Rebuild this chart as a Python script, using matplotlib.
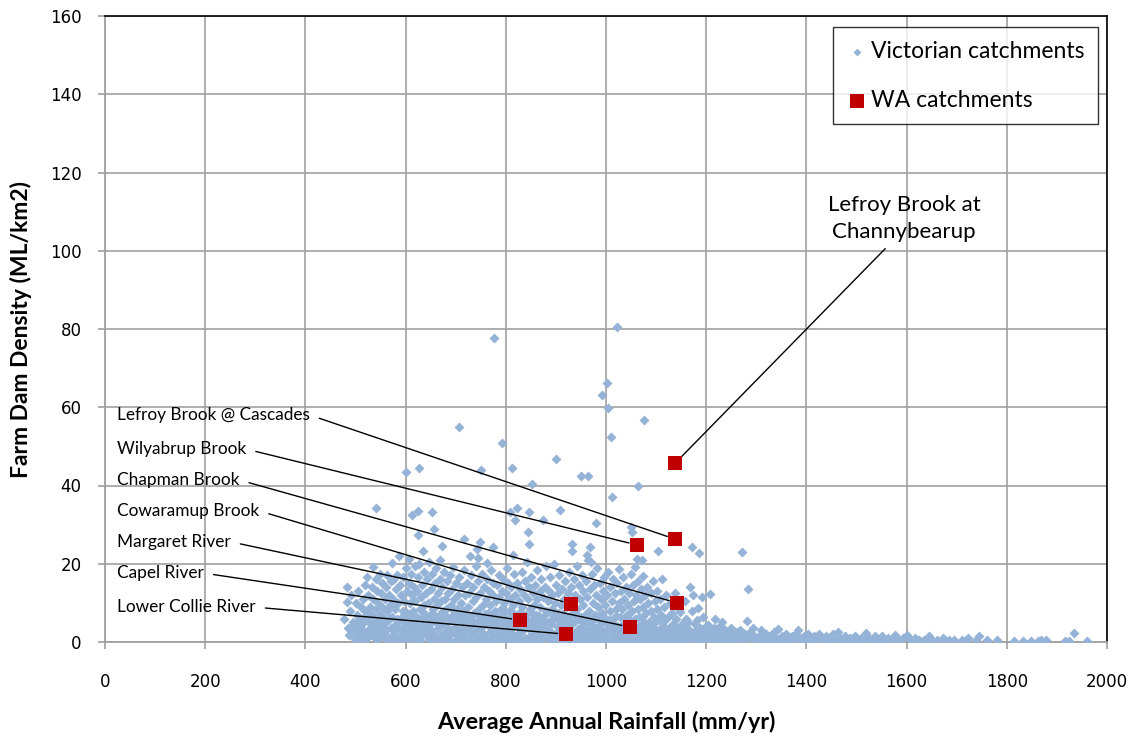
#!/usr/bin/env python3
"""Farm dam density vs average annual rainfall: Victorian and WA catchments."""

import matplotlib
matplotlib.use('Agg')
import matplotlib.pyplot as plt
import numpy as np

# --- Victorian catchments (rainfall mm/yr, dam density ML/km2), by band ---
vic_470_570 = [
    (483, 14.1), (483, 10.2), (478, 6), (485, 3.5), (490, 8), (492, 12),
    (495, 5), (497, 2.5), (500, 10), (502, 7), (505, 13), (505, 4),
    (508, 1.5), (510, 9), (512, 6), (515, 11), (515, 3), (518, 14.5),
    (518, 8), (520, 2), (522, 16.6), (525, 12), (527, 5), (528, 9),
    (530, 2), (532, 14), (533, 7), (535, 19.2), (535, 11), (537, 3.5),
    (538, 1), (540, 16), (540, 8.5), (542, 13), (543, 5.5), (545, 10),
    (546, 2.5), (548, 17.5), (548, 7), (550, 12.5), (551, 4), (553, 15),
    (553, 9), (555, 1.5), (556, 6), (558, 11), (560, 14), (560, 3),
    (562, 8), (563, 17), (565, 5.5), (566, 12), (567, 1), (568, 9.5),
    (570, 15.5), (570, 3.5),
]
vic_570_670 = [
    (573, 20.2), (575, 15.8), (572, 6.5), (574, 11), (576, 2), (578, 8.5),
    (580, 13.5), (581, 4.5), (583, 17), (584, 10), (586, 1.2), (587, 22.0),
    (588, 6), (589, 14.5), (591, 12), (592, 3), (594, 8), (595, 16.5),
    (597, 10.5), (598, 5), (600, 19), (600, 1.5), (602, 13), (603, 7.5),
    (605, 3.5), (606, 21.2), (606, 15), (608, 10), (609, 5.5), (611, 17.5),
    (612, 12), (613, 2), (614, 8), (616, 14), (617, 4), (618, 19.5),
    (619, 10.5), (620, 6.5), (622, 1), (623, 13), (625, 16.5), (626, 3),
    (627, 19.9), (628, 8.5), (630, 11.5), (631, 5.5), (633, 14.5), (635, 2),
    (636, 18), (637, 9.5), (639, 7), (640, 12.5), (641, 4), (643, 16),
    (644, 1.5), (645, 10), (647, 20.5), (648, 6), (650, 13.5), (651, 3),
    (653, 17.5), (654, 8.5), (656, 11), (657, 1), (658, 15), (660, 5),
    (661, 19), (662, 9.5), (664, 12.5), (665, 3.5), (667, 7), (668, 16),
    (669, 21.0), (670, 10.5),
]
vic_670_770 = [
    (672, 2), (673, 14), (675, 6), (676, 18), (678, 11), (679, 4),
    (681, 8.5), (682, 15.5), (684, 1.5), (685, 12.5), (687, 5.5), (688, 17),
    (690, 9.5), (691, 3), (693, 13.5), (694, 7), (695, 19.2), (697, 11),
    (698, 2), (700, 15), (701, 5), (703, 8.5), (704, 12), (706, 1),
    (707, 16.5), (709, 6.5), (710, 10), (712, 3.5), (713, 14), (715, 8),
    (716, 18.5), (717, 26.3), (718, 12), (719, 5), (721, 2.5), (723, 15),
    (724, 9), (726, 6), (727, 12.5), (729, 22.0), (729, 1), (731, 17),
    (732, 4), (734, 10.5), (735, 14), (737, 7.5), (738, 2), (740, 19.5),
    (741, 11.5), (743, 23.8), (743, 5), (744, 21.5), (745, 15.5), (746, 8.5),
    (748, 1.5), (749, 25.6), (749, 12.5), (751, 3.5), (752, 17.5), (754, 9.5),
    (755, 6), (757, 14), (758, 1), (760, 11), (762, 20.2), (762, 4.5),
    (763, 16), (765, 7.5), (766, 13), (768, 2.5), (769, 9.5),
]
vic_770_870 = [
    (771, 18.5), (772, 5.5), (774, 24.3), (774, 12), (775, 15), (777, 1.5),
    (778, 8), (780, 10.5), (781, 3.5), (783, 14.5), (784, 6.5), (786, 17),
    (787, 11.5), (789, 2), (790, 8.5), (792, 13), (793, 4.5), (795, 16),
    (796, 10), (798, 1), (799, 6), (801, 12.5), (802, 19), (804, 3),
    (805, 15), (807, 8), (808, 11), (810, 5), (811, 14), (814, 22.2),
    (813, 2), (815, 9.5), (816, 17.5), (818, 6.5), (819, 12), (821, 1.5),
    (823, 15), (824, 4), (826, 10.5), (827, 7.5), (829, 13.5), (830, 2.5),
    (832, 18), (833, 9), (835, 5.5), (836, 12), (838, 1), (839, 15.5),
    (841, 7), (842, 20.5), (844, 3.5), (845, 11), (847, 14), (848, 8.5),
    (850, 1.5), (851, 16.5), (853, 5.5), (854, 12.5), (856, 9.5), (857, 3),
    (859, 14.5), (860, 7), (862, 11), (863, 18.5), (865, 2), (866, 5),
    (868, 13), (869, 9),
]
vic_870_970 = [
    (871, 16), (872, 1), (874, 6.5), (875, 11.5), (877, 3.5), (878, 14),
    (880, 8), (881, 19.5), (883, 1.5), (884, 10.5), (886, 5), (887, 13),
    (889, 16.5), (890, 2.5), (892, 8.5), (893, 12), (895, 6), (896, 20),
    (898, 1), (899, 10), (901, 14.5), (902, 4), (904, 7.5), (905, 12.5),
    (907, 17), (908, 2), (910, 9.5), (911, 5.5), (913, 13.5), (914, 1),
    (916, 11), (917, 7), (919, 15.5), (921, 3), (922, 9), (924, 12.5),
    (925, 6), (927, 18), (928, 1.5), (930, 14), (931, 4.5), (933, 10.5),
    (934, 7.5), (936, 16), (937, 2), (939, 12), (940, 5.5), (942, 19.5),
    (943, 8.5), (945, 1), (946, 14.5), (948, 11), (949, 3.5), (951, 6.5),
    (952, 17), (954, 9.5), (955, 13), (957, 2.5), (958, 7), (960, 15.5),
    (961, 4.5), (963, 11.5), (964, 21), (966, 1.5), (967, 8), (969, 13.5),
]
vic_970_1070 = [
    (971, 5), (972, 17.5), (974, 10), (975, 2), (977, 14.5), (978, 7),
    (980, 3.5), (981, 12), (983, 19), (984, 9), (986, 1), (987, 5.5),
    (989, 15), (990, 11), (992, 3), (993, 7.5), (995, 13), (996, 16.5),
    (998, 1.5), (999, 9.5), (1001, 5), (1002, 12), (1004, 18), (1005, 3),
    (1007, 8), (1008, 14), (1010, 1), (1011, 10.5), (1013, 6), (1014, 16),
    (1016, 2.5), (1017, 12.5), (1019, 8.5), (1021, 4), (1022, 15),
    (1024, 1.5), (1025, 10), (1026, 18.7), (1028, 6.5), (1029, 13),
    (1031, 2.5), (1032, 8.5), (1034, 16.5), (1035, 11), (1037, 4.5),
    (1038, 1), (1040, 14), (1041, 7), (1043, 9.5), (1044, 2), (1046, 12.5),
    (1047, 5.5), (1049, 17.5), (1050, 1.5), (1052, 8), (1053, 14.5),
    (1055, 3.5), (1056, 10.5), (1058, 19.2), (1058, 6), (1060, 12),
    (1061, 1), (1063, 15.5), (1064, 8.5), (1066, 4), (1067, 11), (1069, 2),
    (1070, 13.5),
]
vic_1070_1200 = [
    (1072, 21.0), (1072, 6.5), (1074, 16.9), (1074, 9), (1075, 1.5),
    (1077, 12), (1078, 3.5), (1080, 7.5), (1081, 14), (1083, 1), (1084, 10),
    (1086, 5), (1087, 2.5), (1089, 12.5), (1090, 8), (1092, 4), (1093, 15.5),
    (1095, 1), (1096, 6.5), (1098, 10.5), (1099, 3), (1101, 8.5), (1102, 13),
    (1104, 1.5), (1105, 5.5), (1107, 11), (1108, 2.5), (1110, 7), (1111, 16),
    (1113, 4), (1114, 1), (1116, 9), (1117, 5.5), (1119, 12), (1121, 2),
    (1123, 6.5), (1125, 3.5), (1127, 10), (1129, 1), (1131, 7.5),
    (1133, 4.5), (1135, 2), (1137, 12.5), (1139, 6), (1141, 1.5),
    (1143, 3.5), (1145, 8.5), (1148, 7.7), (1150, 1), (1152, 4.5),
    (1155, 2.5), (1158, 10.5), (1160, 6), (1162, 1), (1164, 5.1), (1166, 3),
    (1168, 14.1), (1170, 1.5), (1172, 8), (1174, 12.0), (1176, 2.5),
    (1178, 4.5), (1180, 1), (1182, 5.6), (1184, 8.7), (1186, 2),
    (1188, 3.5), (1190, 1), (1192, 11.5), (1194, 6.5), (1196, 2.5),
    (1198, 1), (1200, 4),
]
# extra low-density catchments filling the bottom of the main cloud
vic_low = [
    (488, 1.8), (493, 4.2), (499, 0.8), (503, 2.9), (507, 5.6), (511, 0.5),
    (514, 4.8), (519, 6.3), (523, 0.9), (526, 3.2), (529, 6.8), (534, 4.6),
    (539, 2.4), (544, 0.7), (547, 4.1), (552, 6.6), (557, 2.2), (561, 5.1),
    (564, 0.6), (569, 6.1), (574, 3.1), (579, 0.7), (582, 5.8), (585, 3.6),
    (590, 0.5), (593, 6.4), (596, 2.6), (599, 4.3), (604, 0.8), (607, 6.9),
    (610, 3.7), (615, 1.1), (618, 5.2), (621, 3.4), (624, 6.2), (629, 0.6),
    (632, 4.4), (634, 7.6), (638, 2.7), (642, 6.3), (646, 0.7), (649, 4.6),
    (652, 7.3), (655, 2.2), (659, 0.6), (663, 6.1), (666, 1.4), (671, 4.4),
    (674, 7.9), (677, 0.6), (680, 2.6), (683, 6.4), (686, 3.3), (689, 0.5),
    (692, 5.6), (696, 7.9), (699, 3.9), (702, 0.6), (705, 6.6), (708, 2.9),
    (711, 5.4), (714, 0.7), (717, 2.2), (720, 7.1), (722, 4.9), (725, 0.5),
    (728, 3.1), (730, 6.4), (733, 1.3), (736, 5.2), (739, 0.5), (742, 3.4),
    (747, 6.9), (750, 0.6), (753, 4.8), (756, 2.1), (759, 7.2), (761, 0.7),
    (764, 5.9), (767, 0.5), (770, 3.6), (773, 7.1), (776, 0.5), (779, 4.9),
    (782, 1.6), (785, 3.1), (788, 6.2), (791, 0.6), (794, 2.6), (797, 7.4),
    (800, 4.2), (803, 0.6), (806, 5.9), (809, 2.4), (812, 7.6), (815, 0.5),
    (817, 4.1), (820, 6.6), (822, 0.6), (825, 2.1), (828, 5.3), (831, 0.5),
    (834, 3.3), (837, 6.9), (840, 0.6), (843, 5.6), (846, 1.4), (849, 3.9),
    (852, 0.5), (855, 7.2), (858, 4.9), (861, 0.6), (864, 3.4), (867, 6.6),
    (870, 0.5), (873, 4.1), (876, 1.6), (879, 5.4), (882, 3.1), (885, 7.6),
    (888, 0.6), (891, 4.6), (894, 2.1), (897, 6.6), (900, 0.5), (903, 2.6),
    (906, 5.7), (909, 0.6), (912, 3.4), (915, 7.1), (918, 0.5), (920, 4.6),
    (923, 1.6), (926, 3.3), (929, 6.6), (932, 0.5), (935, 4.9), (938, 7.4),
    (941, 0.6), (944, 3.4), (947, 5.9), (950, 0.5), (953, 2.1), (956, 4.9),
    (959, 0.6), (962, 6.4), (965, 3.1), (968, 0.5), (970, 5.6), (973, 1.6),
    (976, 3.9), (979, 0.5), (982, 6.1), (985, 2.6), (988, 0.6), (991, 4.6),
    (994, 1.4), (997, 6.4), (1000, 0.5), (1003, 3.4), (1006, 5.6),
    (1009, 0.6), (1012, 2.9), (1015, 4.4), (1018, 0.5), (1020, 6.6),
    (1023, 2.6), (1027, 0.5), (1030, 4.1), (1033, 0.6), (1036, 6.1),
    (1039, 2.9), (1042, 0.5), (1045, 4.1), (1048, 0.6), (1051, 2.6),
    (1054, 5.4), (1057, 0.5), (1059, 3.1), (1062, 0.6), (1065, 6.4),
    (1068, 1.6), (1071, 3.6), (1073, 0.5), (1076, 5.1), (1079, 0.6),
    (1082, 2.9), (1085, 0.5), (1088, 4.4), (1091, 1.1), (1094, 2.6),
    (1097, 0.5), (1100, 5.4), (1103, 0.6), (1106, 3.1), (1109, 0.5),
    (1112, 1.9), (1115, 0.6), (1118, 3.6), (1122, 0.5), (1126, 1.6),
    (1130, 3.1), (1134, 0.5), (1138, 2.1), (1142, 0.5), (1146, 1.4),
    (1151, 2.9), (1156, 0.5), (1161, 3.6), (1167, 0.6), (1173, 1.6),
    (1179, 2.9), (1185, 0.5), (1191, 3.1), (1197, 0.6), (1202, 2.1),
    (1211, 0.5), (1219, 3.2), (1225, 0.5), (1234, 2.4), (1243, 0.5),
    (1251, 1.2), (1260, 0.5),
]
vic_1200_1500 = [
    (1204, 4.3), (1208, 12.3), (1206, 1.5), (1210, 2.5), (1213, 1),
    (1216, 3.5), (1218, 6), (1220, 1.5), (1223, 2.5), (1226, 1), (1228, 4),
    (1231, 5.1), (1233, 2), (1236, 1), (1238, 3), (1241, 1.5), (1244, 2.5),
    (1247, 1), (1250, 3.5), (1253, 2), (1256, 1), (1259, 1.5), (1262, 2.5),
    (1265, 1), (1268, 3), (1270, 1.5), (1274, 1), (1277, 2), (1280, 1),
    (1281, 5.4), (1283, 13.5), (1285, 1.5), (1288, 2.5), (1291, 1),
    (1293, 3.6), (1296, 1.5), (1299, 1), (1303, 0.5), (1306, 1.5),
    (1310, 3), (1313, 0.5), (1317, 1), (1320, 2), (1324, 0.5), (1328, 1.5),
    (1332, 0.5), (1336, 2.5), (1340, 1), (1343, 3.3), (1347, 0.5),
    (1351, 1.5), (1355, 0.5), (1359, 2), (1363, 1), (1367, 0.5),
    (1371, 1.5), (1375, 0.5), (1379, 2), (1383, 3.1), (1387, 1),
    (1391, 0.5), (1395, 1.5), (1399, 0.5), (1403, 2), (1408, 1),
    (1412, 0.5), (1416, 1.5), (1420, 0.5), (1425, 2), (1430, 1),
    (1434, 0.5), (1439, 1.5), (1444, 0.5), (1449, 1), (1454, 2),
    (1458, 0.5), (1463, 2.6), (1468, 1), (1473, 0.5), (1478, 1.5),
    (1483, 0.5), (1488, 1), (1493, 0.5), (1498, 1.5),
]
vic_1500_2000 = [
    (1503, 0.5), (1509, 1), (1515, 0.5), (1519, 2.3), (1524, 1),
    (1530, 0.5), (1536, 1.5), (1542, 0.5), (1548, 1), (1551, 1.5),
    (1556, 0.5), (1563, 1), (1570, 0.5), (1577, 1.8), (1585, 0.5),
    (1593, 1), (1600, 1.8), (1608, 0.5), (1616, 1), (1625, 0.5),
    (1635, 0.5), (1645, 1.5), (1650, 0.5), (1660, 0.5), (1672, 1),
    (1684, 0.5), (1695, 0.5), (1710, 0.5), (1723, 1), (1738, 0.5),
    (1745, 1.5), (1760, 0.5), (1780, 0.5), (1815, 0.3), (1833, 0.3),
    (1848, 0.3), (1863, 0.3), (1868, 0.5), (1878, 0.5), (1916, 0.3),
    (1924, 0.3), (1934, 2.3), (1960, 0.3),
]
vic_high = [
    (776, 77.7), (1022, 80.5), (1002, 66.2), (993, 63.1), (1004, 59.8),
    (1076, 56.7), (707, 55.0), (1010, 52.4), (792, 50.9), (900, 46.8),
    (601, 43.4), (627, 44.5), (750, 44.0), (812, 44.5), (950, 42.4),
    (964, 42.4), (852, 40.4), (1064, 39.9), (1012, 37.1), (541, 34.2),
    (613, 32.5), (625, 33.5), (653, 33.2), (808, 33.2), (822, 34.2),
    (818, 31.2), (846, 33.2), (908, 33.7), (874, 31.2), (980, 30.4),
    (1050, 29.4), (1052, 28.1), (657, 28.9), (844, 28.1), (625, 27.3),
    (673, 24.5), (846, 25.0), (932, 25.0), (932, 23.3), (968, 24.3),
    (962, 22.2), (970, 20.4), (1104, 23.3), (1172, 24.3), (1186, 22.7),
    (1062, 21.2), (635, 23.3), (1271, 23.0),
]

# --- WA catchments ---
wa_names = ['Lefroy Brook at\nChannybearup', 'Lefroy Brook @ Cascades',
            'Wilyabrup Brook', 'Chapman Brook', 'Cowaramup Brook',
            'Margaret River', 'Capel River', 'Lower Collie River']
wa_rain = [1138, 1138, 1062, 1142, 930, 1048, 828, 920]
wa_density = [45.7, 26.3, 24.8, 10.0, 9.7, 3.8, 5.6, 2.0]
# label anchor positions (data units)
label_x = [1595, 24, 24, 24, 24, 24, 24, 24]
label_y = [108.2, 58.0, 49.3, 41.4, 33.5, 25.6, 17.6, 8.9]

BLUE = '#95b3d7'
RED = '#c00000'
GRID = '#a0a0a0'
LABEL_FONT = ['Lato', 'DejaVu Sans']


def main():
    vic = np.array(vic_470_570 + vic_570_670 + vic_670_770 + vic_770_870 +
                   vic_870_970 + vic_970_1070 + vic_1070_1200 + vic_low +
                   vic_1200_1500 + vic_1500_2000 + vic_high)

    fig = plt.figure(figsize=(11.47, 7.36), dpi=100)
    ax = fig.add_axes([105 / 1147, 94 / 736, 1002 / 1147, 626 / 736])

    ax.scatter(vic[:, 0], vic[:, 1], s=26, marker='D', color=BLUE,
               linewidths=0, zorder=3, label='Victorian catchments')
    ax.scatter(wa_rain, wa_density, s=115, marker='s', color=RED,
               linewidths=0, zorder=5, label='WA catchments')

    for i, name in enumerate(wa_names):
        if i == 0:
            ax.annotate(name, xy=(wa_rain[i], wa_density[i]),
                        xytext=(label_x[i], label_y[i]), textcoords='data',
                        ha='center', va='center', fontsize=16,
                        family=LABEL_FONT, linespacing=1.4,
                        arrowprops=dict(arrowstyle='-', color='black', lw=1,
                                        relpos=(0.42, 0), shrinkA=4,
                                        shrinkB=6),
                        zorder=4)
        else:
            ax.annotate(name, xy=(wa_rain[i], wa_density[i]),
                        xytext=(label_x[i], label_y[i]), textcoords='data',
                        ha='left', va='center', fontsize=12.4,
                        family=LABEL_FONT,
                        arrowprops=dict(arrowstyle='-', color='black', lw=1,
                                        relpos=(1, 0.5), shrinkA=5,
                                        shrinkB=6),
                        zorder=4)

    ax.set_xlim(0, 2000)
    ax.set_ylim(0, 160)
    ax.set_xticks(np.arange(0, 2001, 200))
    ax.set_yticks(np.arange(0, 161, 20))
    ax.grid(True, color=GRID, linewidth=1.2)
    ax.set_axisbelow(True)
    ax.tick_params(axis='both', labelsize=12, color=GRID, length=5,
                   width=1.2, direction='out')
    ax.tick_params(axis='y', pad=12)
    ax.tick_params(axis='x', pad=17)
    for side in ('left', 'bottom'):
        ax.spines[side].set_color(GRID)
        ax.spines[side].set_linewidth(1.3)
    for side in ('top', 'right'):
        ax.spines[side].set_color('black')
        ax.spines[side].set_linewidth(1.2)

    ax.set_xlabel('Average Annual Rainfall (mm/yr)', fontsize=16.8,
                  fontweight='bold', family=LABEL_FONT, labelpad=15)
    ax.set_ylabel('Farm Dam Density (ML/km2)', fontsize=16.5,
                  fontweight='bold', family=LABEL_FONT, labelpad=13)

    leg = ax.legend(loc='upper right', bbox_to_anchor=(0.991, 0.982),
                    borderaxespad=0, fancybox=False, frameon=True,
                    edgecolor='black',
                    prop={'family': LABEL_FONT, 'size': 16.5},
                    labelspacing=1.2, borderpad=0.6, handletextpad=0.15,
                    handlelength=0.9, scatterpoints=1)
    leg.get_frame().set_linewidth(1.0)
    leg.legend_handles[0].set_sizes([16])

    fig.savefig('out.png', dpi=100)
    plt.close(fig)


if __name__ == '__main__':
    main()
